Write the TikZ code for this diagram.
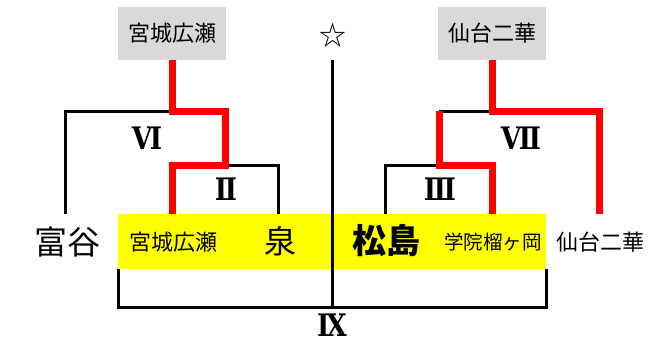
\documentclass[tikz,border=0pt]{standalone}
\usepackage{fontspec}
\setmainfont{Noto Sans CJK JP}
\newfontfamily\romanfont{DejaVu Serif}[FakeStretch=0.85]
\usetikzlibrary{positioning,calc}
\definecolor{boxgray}{HTML}{D9D9D9}
\definecolor{winred}{HTML}{FF0000}
\definecolor{bandyellow}{HTML}{FFFF00}
\tikzset{
  line/.style={line width=3pt},
  win/.style={line width=7pt, draw=winred},
  seed/.style={fill=boxgray, minimum width=108pt, minimum height=53pt, inner sep=0pt, font=\fontsize{22}{22}\selectfont},
  team/.style={inner sep=0pt, font=\fontsize{22}{22}\selectfont},
  bigteam/.style={inner sep=0pt, font=\fontsize{33}{33}\selectfont},
  rnum/.style={inner sep=0pt, text depth=0pt, font=\romanfont\bfseries\fontsize{31}{31}\selectfont}
}
\begin{document}
\begin{tikzpicture}[x=1pt,y=-1pt]
    \useasboundingbox (0,0) rectangle (660,340);
    % Yellow band of the last four
    \node[fill=bandyellow, minimum width=428pt, minimum height=55pt, inner sep=0pt] (band) at (332,241.5) {};

    % Seeds at the top
    \node[seed] (topL) at (172,33.5) {宮城広瀬};
    \node[seed] (topR) at (492,33.5) {仙台二華};
    \node[inner sep=0pt, font=\fontsize{27}{27}\selectfont] (star) at (333,35) {☆};

    % Teams on the bottom row
    \node[bigteam] (tomiya) at (67,242) {富谷};
    \node[team] (hiroseB) at (173,242) {宮城広瀬};
    \node[bigteam, font=\fontsize{32}{32}\selectfont] (izumi) at (280,241) {泉};
    \node[bigteam, font=\fontsize{34}{34}\selectfont\bfseries] (matsu) at (386,241) {松島};
    \node[team, font=\fontsize{19.5}{19.5}\selectfont] (gakuin) at (493,242) {学院榴ヶ岡};
    \node[team] (nikaB) at (600,242) {仙台二華};

    % Junctions
    \coordinate (j6) at (172,111);
    \coordinate (j2) at (225,165);
    \coordinate (j3) at (439,165);
    \coordinate (j7) at (492,111);
    \coordinate (j9) at (332,307);

    % Black brackets
    \draw[line] (65.5,214) -- (65.5,111) -- (j6); % VI
    \draw[line] (j2) -- (278,165) -- (278,214); % II
    \draw[line] (385.5,214) -- (385.5,165) -- (j3); % III
    \draw[line] (439,111) -- (j7); % VII
    \draw[line] (band.south west) ++(1,0) |- (j9) -| (band.south east); % IX
    \draw[line] (332,60) -- (j9); % centre

    % Winners in red
    \draw[win] (topL.south) -- (j6) -- (225,111) -- (j2) -- (172,165) -- (172,214);
    \draw[win] (topR.south) -- (j7) -- (599.5,111) -- (599.5,214);
    \draw[win] (439,111) -- (j3) -- (492,165) -- (492,214);

    % Round numbers
    \node[rnum] (r6) at (147,138) {Ⅵ};
    \node[rnum] (r2) at (226,189) {Ⅱ};
    \node[rnum] (r7) at (521,138) {Ⅶ};
    \node[rnum] (r3) at (440,189) {Ⅲ};
    \node[rnum, anchor=base] (r9) at (332,336) {Ⅸ};
\end{tikzpicture}
\end{document}
